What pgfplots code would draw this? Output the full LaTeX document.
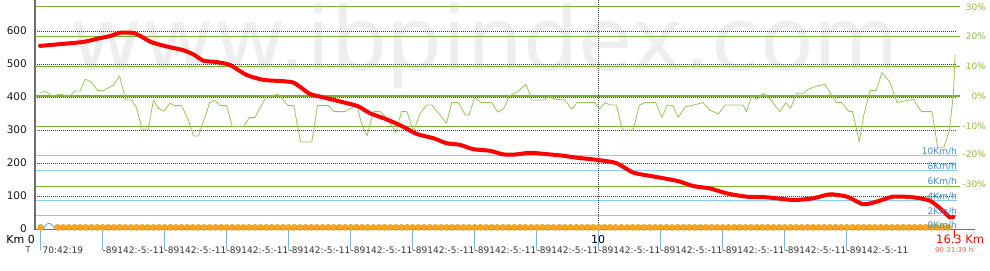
\documentclass[border=0pt]{standalone}
\usepackage{fontspec}
\setmainfont{DejaVu Sans}
\usepackage{pgfplots}
\pgfplotsset{compat=1.18}
\usepackage{pgfplotstable}
\definecolor{wm}{RGB}{238,238,238}
\definecolor{gline}{RGB}{122,176,46}
\definecolor{gtext}{RGB}{140,188,70}
\definecolor{gradecol}{RGB}{150,196,90}
\definecolor{lb}{RGB}{135,204,242}
\definecolor{btext}{RGB}{60,140,205}
\definecolor{tickblue}{RGB}{120,185,225}
\definecolor{axgray}{RGB}{110,110,110}
\definecolor{dotorange}{RGB}{252,168,22}
\definecolor{speedblue}{RGB}{90,160,215}
\definecolor{lred}{RGB}{255,90,90}
\newcommand\fs[1]{\fontsize{#1bp}{#1bp}\selectfont}

\pgfplotstableread{
km elev
0.09 555
0.50 561
0.86 567
1.09 576
1.36 586
1.51 595
1.77 593
2.07 566
2.39 551
2.63 542
2.81 529
2.99 510
3.22 506
3.46 497
3.75 467
4.05 452
4.40 448
4.58 444
4.70 431
4.88 409
5.11 399
5.47 384
5.73 372
5.94 351
6.24 332
6.53 310
6.77 288
7.07 275
7.30 260
7.54 255
7.77 242
8.07 237
8.31 226
8.54 226
8.78 231
9.13 226
9.37 222
9.61 216
9.84 212
10.08 207
10.32 199
10.61 171
10.91 161
11.14 154
11.41 145
11.68 130
11.97 123
12.27 108
12.62 98
12.98 96
13.45 88
13.80 93
14.10 105
14.40 98
14.69 75
14.93 83
15.22 98
15.58 96
15.87 86
16.05 63
16.23 35
16.29 37
}\elevtable

\pgfplotstableread{
km g
0.09 0.9
0.18 1.7
0.30 0
0.47 0.7
0.53 0
0.62 0
0.71 1.7
0.80 1.7
0.89 5.6
1.00 4.7
1.11 1.8
1.21 1.8
1.39 3.6
1.50 6.7
1.61 -1.3
1.71 -1.3
1.80 -3.8
1.90 -11.1
2.01 -11.1
2.10 -1.3
2.19 -4.1
2.29 -5.0
2.39 -2.4
2.48 -3.2
2.60 -3.2
2.72 -8.0
2.81 -13.3
2.90 -13.3
3.10 -2.2
3.19 -1.4
3.29 -3.2
3.40 -3.2
3.50 -10.2
3.70 -10.2
3.80 -7.2
3.90 -7.2
4.02 -3.0
4.11 0
4.23 0
4.30 0.7
4.38 -0.8
4.49 -3.2
4.59 -3.2
4.71 -15.3
4.91 -15.3
5.01 -3.2
5.20 -3.2
5.30 -5.2
5.50 -5.2
5.71 -3.0
5.79 -9.1
5.89 -13.3
6.00 -5.2
6.12 -5.2
6.27 -8.0
6.40 -12.2
6.50 -5.2
6.60 -5.2
6.71 -11.9
6.83 -5.8
6.95 -3.0
7.04 -3.0
7.18 -6.3
7.30 -9.1
7.39 -2.2
7.51 -2.2
7.63 -6.3
7.70 -6.3
7.80 -0.4
7.91 -2.2
8.10 -2.2
8.21 -5.4
8.32 -4.1
8.41 0
8.54 1.2
8.71 3.9
8.81 -1.3
9.02 -1.3
9.12 -0.2
9.22 -1.1
9.40 -1.3
9.52 -4.4
9.61 -2.2
9.93 -2.2
10.01 -4.4
10.11 -2.2
10.20 -3.0
10.31 -3.0
10.42 -11.3
10.61 -11.3
10.72 -3.0
10.82 -2.2
11.01 -2.2
11.12 -7.1
11.21 -3.1
11.31 -3.1
11.41 -7.1
11.53 -3.6
11.68 -3.0
11.85 -2.2
11.97 -4.7
12.12 -6.0
12.24 -3.0
12.56 -3.0
12.62 -5.2
12.71 -0.2
12.80 -1.1
12.92 0.9
13.04 -1.1
13.21 -5.2
13.32 -2.2
13.40 -4.1
13.51 0.9
13.63 0.9
13.71 2.2
13.86 3.3
14.01 3.9
14.21 -2.2
14.31 -2.2
14.44 -5.2
14.50 -5.2
14.62 -15.2
14.70 -6.3
14.81 1.8
14.92 1.8
15.02 7.8
15.16 4.8
15.29 -2.2
15.43 -1.6
15.58 -1.1
15.72 -5.2
15.91 -5.2
16.01 -17.1
16.12 -17.1
16.22 -11.3
16.29 0.9
16.32 13.7
}\gradetable

\begin{document}
\begin{tikzpicture}[x=1bp,y=1bp]
% watermark
\node[anchor=base west,inner sep=0,text=wm,font=\fs{88}] at (35.5,159) {www.ibpindex.com};
% dotted elevation grid
\foreach \y in {33,66,99,132,165,198}
  \draw[black!75, line width=0.7bp, dash pattern=on 1bp off 1bp] (0,\y)--(921,\y);
% green grade lines
\foreach \y in {222,193,163,103,43}
  \draw[gline, line width=1bp] (0,\y)--(925,\y);
\draw[gline, line width=2bp] (0,133)--(925,133);
% blue speed lines
\foreach \y in {74,59,29,14}
  \draw[lb, line width=1bp] (0,\y)--(922,\y);
% vertical dotted at km 10
\draw[black!75, line width=0.7bp, dash pattern=on 1bp off 1bp] (563,0)--(563,229);
% axis lines
\draw[axgray, line width=1.3bp] (0,-0.5)--(0,229);
\draw[axgray, line width=1bp] (0,-0.5)--(940,-0.5);
% time ticks
\foreach \i in {0,...,13}
  \draw[tickblue, line width=0.8bp] ({5+62*\i},-1)--({5+62*\i},-21);
\draw[red, line width=1bp] (919,-1)--(919,-9);

\begin{axis}[at={(0,0)}, anchor=south west,
  width=919bp, height=229bp, scale only axis,
  xmin=0, xmax=16.3, ymin=0, ymax=694,
  hide axis, clip=false]
\addplot[gradecol, line width=0.8bp, line join=round]
  table[x=km, y expr={403+9.09*\thisrow{g}}] {\gradetable};
\addplot[red, line width=4bp, smooth, tension=0.4, line cap=round, line join=round]
  table[x=km, y=elev] {\elevtable};
\addplot[speedblue, line width=0.8bp, smooth] coordinates {
(0.15,0)(0.18,9)(0.22,16)(0.26,17)(0.30,13)(0.33,7)(0.36,0)};
\addplot[only marks, mark=*, mark size=3.1bp,
  mark options={fill=dotorange, draw=dotorange!88!black, line width=0.3bp}]
  coordinates {
(0.1,5)(0.4,5)(0.5,5)(0.6,5)(0.7,5)(0.8,5)(0.9,5)
(1.0,5)(1.1,5)(1.2,5)(1.3,5)(1.4,5)(1.5,5)(1.6,5)(1.7,5)(1.8,5)(1.9,5)
(2.0,5)(2.1,5)(2.2,5)(2.3,5)(2.4,5)(2.5,5)(2.6,5)(2.7,5)(2.8,5)(2.9,5)
(3.0,5)(3.1,5)(3.2,5)(3.3,5)(3.4,5)(3.5,5)(3.6,5)(3.7,5)(3.8,5)(3.9,5)
(4.0,5)(4.1,5)(4.2,5)(4.3,5)(4.4,5)(4.5,5)(4.6,5)(4.7,5)(4.8,5)(4.9,5)
(5.0,5)(5.1,5)(5.2,5)(5.3,5)(5.4,5)(5.5,5)(5.6,5)(5.7,5)(5.8,5)(5.9,5)
(6.0,5)(6.1,5)(6.2,5)(6.3,5)(6.4,5)(6.5,5)(6.6,5)(6.7,5)(6.8,5)(6.9,5)
(7.0,5)(7.1,5)(7.2,5)(7.3,5)(7.4,5)(7.5,5)(7.6,5)(7.7,5)(7.8,5)(7.9,5)
(8.0,5)(8.1,5)(8.2,5)(8.3,5)(8.4,5)(8.5,5)(8.6,5)(8.7,5)(8.8,5)(8.9,5)
(9.0,5)(9.1,5)(9.2,5)(9.3,5)(9.4,5)(9.5,5)(9.6,5)(9.7,5)(9.8,5)(9.9,5)
(10.0,5)(10.1,5)(10.2,5)(10.3,5)(10.4,5)(10.5,5)(10.6,5)(10.7,5)(10.8,5)(10.9,5)
(11.0,5)(11.1,5)(11.2,5)(11.3,5)(11.4,5)(11.5,5)(11.6,5)(11.7,5)(11.8,5)(11.9,5)
(12.0,5)(12.1,5)(12.2,5)(12.3,5)(12.4,5)(12.5,5)(12.6,5)(12.7,5)(12.8,5)(12.9,5)
(13.0,5)(13.1,5)(13.2,5)(13.3,5)(13.4,5)(13.5,5)(13.6,5)(13.7,5)(13.8,5)(13.9,5)
(14.0,5)(14.1,5)(14.2,5)(14.3,5)(14.4,5)(14.5,5)(14.6,5)(14.7,5)(14.8,5)(14.9,5)
(15.0,5)(15.1,5)(15.2,5)(15.3,5)(15.4,5)(15.5,5)(15.6,5)(15.7,5)(15.8,5)(15.9,5)
(16.0,5)(16.1,5)(16.2,5)};
\end{axis}

% left elevation labels
\foreach \v/\y in {0/0,100/33,200/66,300/99,400/132,500/165,600/198}
  \node[anchor=east, inner sep=0, font=\fs{10.5}, text=black!90] at (-8,\y) {\v};
% right grade labels
\foreach \t/\y in {30/222,20/193,10/163,0/133,-10/103,-20/75,-30/45}
  \node[anchor=east, inner sep=0, font=\fs{9}, text=gtext] at (951,\y) {\t\%};
% speed labels
\foreach \t/\y in {10/75,8/60,6/45,4/30,2/15,0/0.5}
  \node[anchor=base east, inner sep=0, font=\fs{9}, text=btext] at (922,\y) {\t Km/h};
% x labels
\node[anchor=east, inner sep=0, font=\fs{11}] at (0,-10) {Km 0};
\node[anchor=center, inner sep=0, font=\fs{11}] at (563,-10) {10};
\node[anchor=west, inner sep=0, font=\fs{11.5}, text=red] at (901,-10) {16.3 Km};
\node[anchor=west, inner sep=0, font=\fs{7}, text=lred] at (900,-20.5) {90:31:39 h};
\node[anchor=center, inner sep=0, font=\fs{8}, text=black!80] at (-7,-21) {T};
\node[anchor=west, inner sep=0, font=\fs{9}, text=black!80] at (7.5,-21) {70:42:19};
\foreach \i in {1,...,13}
  \node[anchor=west, inner sep=0, font=\fs{9}, text=black!80] at ({5+62*\i+0.5},-21) {-89142:-5:-11};

\pgfresetboundingbox
\useasboundingbox (-35,-41) rectangle (955,229);
\end{tikzpicture}
\end{document}
